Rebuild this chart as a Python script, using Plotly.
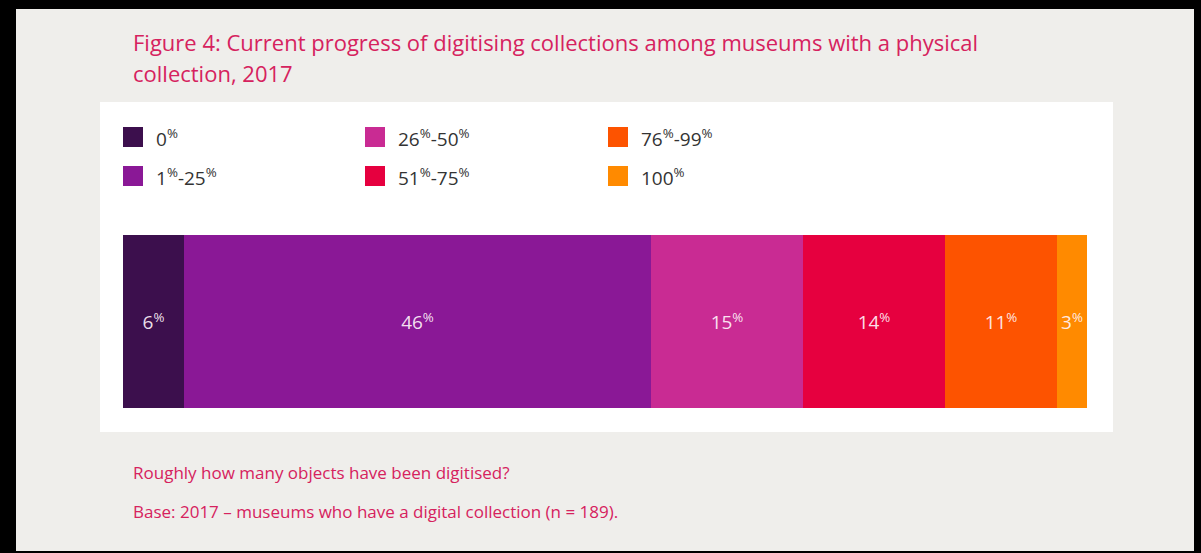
import plotly.graph_objects as go

# Share of museums by how much of their collection has been digitised
categories = ["0%", "1%-25%", "26%-50%", "51%-75%", "76%-99%", "100%"]
shares = [6, 46, 15, 14, 11, 3]
colors = ["#3c0f4d", "#8a1896", "#c92b93", "#e6003f", "#fd5300", "#ff8a00"]

title_lines = [
    "Figure 4: Current progress of digitising collections among museums with a physical",
    "collection, 2017",
]
footnotes = [
    "Roughly how many objects have been digitised?",
    "Base: 2017 \u2013 museums who have a digital collection (n = 189).",
]

W, H = 1201, 553
FONT = "Open Sans"
PINK = "#d6225e"


def fx(x):
    return x / W


def fy(y):
    return 1 - y / H


def sup_pct(s):
    return s.replace("%", "<sup>%</sup>")


fig = go.Figure()
for cat, val, col in zip(categories, shares, colors):
    fig.add_trace(go.Bar(
        x=[val], y=["2017"], orientation="h", name=cat,
        marker=dict(color=col, line=dict(width=0)),
        texttemplate="%{x}<sup>%</sup>",
        textposition="inside", insidetextanchor="middle",
        textangle=0, constraintext="none",
        textfont=dict(family=FONT, size=19, color="rgba(255,244,250,0.92)"),
        showlegend=False, hoverinfo="skip",
    ))

shapes = [
    # grey card on the black frame
    dict(type="rect", xref="paper", yref="paper", x0=fx(16), x1=fx(1194),
         y0=fy(551), y1=fy(9), fillcolor="#efeeeb", line=dict(width=0), layer="below"),
    # white chart panel
    dict(type="rect", xref="paper", yref="paper", x0=fx(100), x1=fx(1113),
         y0=fy(432), y1=fy(102), fillcolor="#ffffff", line=dict(width=0), layer="below"),
]
annotations = []

for i, line in enumerate(title_lines):
    annotations.append(dict(
        xref="paper", yref="paper", x=fx(131), y=fy(42 + 31 * i),
        xanchor="left", yanchor="middle", showarrow=False, text=line,
        font=dict(family=FONT, size=22, color=PINK),
    ))

for i, line in enumerate(footnotes):
    annotations.append(dict(
        xref="paper", yref="paper", x=fx(131), y=fy(472 + 39 * i),
        xanchor="left", yanchor="middle", showarrow=False, text=line,
        font=dict(family=FONT, size=17, color=PINK),
    ))

# legend: three columns of two entries each
col_x = [123, 365, 608]
row_y = [137, 176]
for i, (cat, col) in enumerate(zip(categories, colors)):
    cx = col_x[i // 2]
    cy = row_y[i % 2]
    shapes.append(dict(type="rect", xref="paper", yref="paper",
                       x0=fx(cx), x1=fx(cx + 20), y0=fy(cy + 10), y1=fy(cy - 10),
                       fillcolor=col, line=dict(width=0)))
    annotations.append(dict(
        xref="paper", yref="paper", x=fx(cx + 31), y=fy(cy + 1),
        xanchor="left", yanchor="middle", showarrow=False, text=sup_pct(cat),
        font=dict(family=FONT, size=19, color="#333333"),
    ))

fig.update_layout(
    width=W, height=H,
    margin=dict(l=0, r=0, t=0, b=0),
    paper_bgcolor="#000000", plot_bgcolor="rgba(0,0,0,0)",
    barmode="stack", bargap=0,
    xaxis=dict(domain=[fx(123), fx(1087)], range=[0, sum(shares)], visible=False, fixedrange=True),
    yaxis=dict(domain=[fy(408), fy(235)], range=[-0.5, 0.5], visible=False, fixedrange=True),
    shapes=shapes, annotations=annotations,
    showlegend=False,
)

fig.write_html("out.html", config={"displayModeBar": False})
